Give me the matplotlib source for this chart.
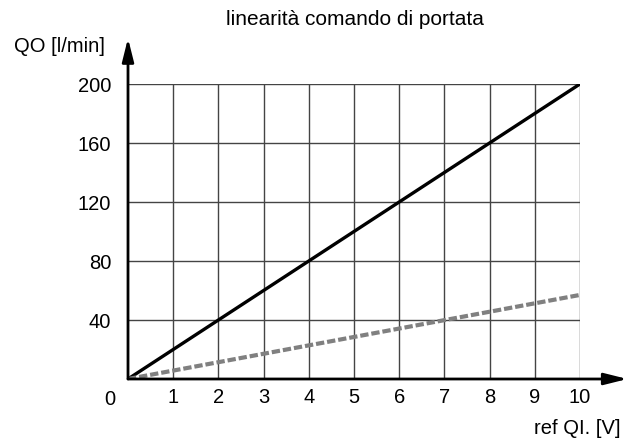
import matplotlib.pyplot as plt

plt.rcParams['font.family'] = ['Liberation Sans', 'DejaVu Sans']

# command voltage [V] and flow [l/min]
ref_v = [0, 10]
qo_full = [0, 200]
qo_reduced = [0, 57]

x_ticks = [1, 2, 3, 4, 5, 6, 7, 8, 9, 10]
y_ticks = [40, 80, 120, 160, 200]

fig = plt.figure(figsize=(6.34, 4.39), dpi=100)
ax = fig.add_axes([0.2019, 0.1344, 0.7129, 0.672])

ax.set_xlim(0, 10)
ax.set_ylim(0, 200)
ax.set_xticks(x_ticks)
ax.set_yticks(y_ticks)
ax.tick_params(length=0, labelsize=14.5)
ax.tick_params(axis='x', pad=6)
ax.tick_params(axis='y', pad=12)
ax.grid(True, color='#444444', linewidth=1.0)
ax.set_axisbelow(True)

for side in ['top', 'right', 'left', 'bottom']:
    ax.spines[side].set_visible(False)

ax.plot(ref_v, qo_full, color='black', linewidth=2.4, solid_capstyle='butt', zorder=3)
ax.plot(ref_v, qo_reduced, color='#808080', linewidth=3, linestyle=(0, (2, 0.7)), zorder=3)

# axes with arrowheads
ax.annotate('', xy=(11.05, 0), xytext=(0, 0), xycoords='data', annotation_clip=False,
            arrowprops=dict(arrowstyle='-|>,head_length=1.4,head_width=0.35', color='black',
                            linewidth=2, shrinkA=0, shrinkB=0))
ax.annotate('', xy=(0, 231), xytext=(0, 0), xycoords='data', annotation_clip=False,
            arrowprops=dict(arrowstyle='-|>,head_length=1.4,head_width=0.35', color='black',
                            linewidth=2, shrinkA=0, shrinkB=0))

ax.text(-0.4, -7, '0', fontsize=14.5, ha='center', va='top')
fig.text(0.56, 0.955, 'linearità comando di portata', fontsize=15, ha='center', va='center')
fig.text(0.022, 0.895, 'QO [l/min]', fontsize=14.5, ha='left', va='center')
fig.text(0.978, 0.025, 'ref QI. [V]', fontsize=14.5, ha='right', va='center')

fig.savefig('out.png', dpi=100)
